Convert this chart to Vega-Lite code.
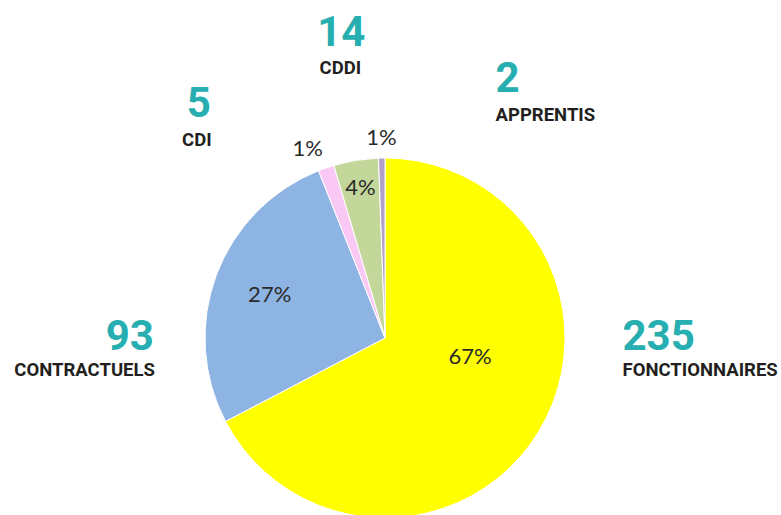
{
  "$schema": "https://vega.github.io/schema/vega-lite/v6.json",
  "width": 770,
  "height": 354,
  "autosize": {"type": "none"},
  "padding": {"left": 0, "top": 161, "right": 11, "bottom": 0},
  "background": "white",
  "config": {"view": {"stroke": null}},
  "data": {
    "values": [
      {"cat": "FONCTIONNAIRES", "rank": 1, "value": 235, "pct": "67%"},
      {"cat": "CONTRACTUELS", "rank": 2, "value": 93, "pct": "27%"},
      {"cat": "CDI", "rank": 3, "value": 5, "pct": "1%"},
      {"cat": "CDDI", "rank": 4, "value": 14, "pct": "4%"},
      {"cat": "APPRENTIS", "rank": 5, "value": 2, "pct": "1%"}
    ]
  },
  "encoding": {
    "theta": {"field": "value", "type": "quantitative", "stack": true},
    "order": {"field": "rank", "type": "quantitative"}
  },
  "layer": [
    {
      "mark": {"type": "arc", "outerRadius": 180, "stroke": "white", "strokeWidth": 1},
      "encoding": {
        "color": {
          "field": "cat",
          "type": "nominal",
          "scale": {
            "domain": ["FONCTIONNAIRES", "CONTRACTUELS", "CDI", "CDDI", "APPRENTIS"],
            "range": ["#FFFF00", "#8DB4E2", "#F9C8F5", "#C4D79B", "#B1A0C7"]
          },
          "legend": null
        }
      }
    },
    {
      "mark": {"type": "text", "radius": 90, "dx": 8, "dy": -28, "font": "Lato", "fontSize": 22, "color": "#2a2a2a", "align": "center", "baseline": "middle"},
      "encoding": {"text": {"condition": {"test": "datum.cat === 'FONCTIONNAIRES'", "field": "pct", "type": "nominal"}, "value": ""}}
    },
    {
      "mark": {"type": "text", "radius": 123, "font": "Lato", "fontSize": 22, "color": "#2a2a2a", "align": "center", "baseline": "middle"},
      "encoding": {"text": {"condition": {"test": "datum.cat === 'CONTRACTUELS'", "field": "pct", "type": "nominal"}, "value": ""}}
    },
    {
      "mark": {"type": "text", "radius": 152, "font": "Lato", "fontSize": 22, "color": "#2a2a2a", "align": "center", "baseline": "middle"},
      "encoding": {"text": {"condition": {"test": "datum.cat === 'CDDI'", "field": "pct", "type": "nominal"}, "value": ""}}
    },
    {
      "mark": {"type": "text", "radius": 200, "dx": -12, "font": "Lato", "fontSize": 22, "color": "#2a2a2a", "align": "center", "baseline": "middle"},
      "encoding": {"text": {"condition": {"test": "datum.cat === 'CDI'", "field": "pct", "type": "nominal"}, "value": ""}}
    },
    {
      "mark": {"type": "text", "radius": 200, "font": "Lato", "fontSize": 22, "color": "#2a2a2a", "align": "center", "baseline": "middle"},
      "encoding": {"text": {"condition": {"test": "datum.cat === 'APPRENTIS'", "field": "pct", "type": "nominal"}, "value": ""}}
    },
    {
      "mark": {"type": "text", "radius": 190, "dx": 75, "dy": -86, "font": "Roboto", "fontWeight": "bold", "fontSize": 42, "color": "#27AEB0", "align": "left", "baseline": "alphabetic"},
      "encoding": {"text": {"condition": {"test": "datum.cat === 'FONCTIONNAIRES'", "field": "value", "type": "quantitative"}, "value": ""}}
    },
    {
      "mark": {"type": "text", "radius": 190, "dx": 75, "dy": -60, "font": "Roboto", "fontWeight": "bold", "fontSize": 18.5, "color": "#231F20", "align": "left", "baseline": "alphabetic"},
      "encoding": {"text": {"condition": {"test": "datum.cat === 'FONCTIONNAIRES'", "field": "cat", "type": "nominal"}, "value": ""}}
    },
    {
      "mark": {"type": "text", "radius": 190, "dx": -53, "dy": 78, "font": "Roboto", "fontWeight": "bold", "fontSize": 42, "color": "#27AEB0", "align": "right", "baseline": "alphabetic"},
      "encoding": {"text": {"condition": {"test": "datum.cat === 'CONTRACTUELS'", "field": "value", "type": "quantitative"}, "value": ""}}
    },
    {
      "mark": {"type": "text", "radius": 190, "dx": -52, "dy": 104, "font": "Roboto", "fontWeight": "bold", "fontSize": 18.5, "color": "#231F20", "align": "right", "baseline": "alphabetic"},
      "encoding": {"text": {"condition": {"test": "datum.cat === 'CONTRACTUELS'", "field": "cat", "type": "nominal"}, "value": ""}}
    },
    {
      "mark": {"type": "text", "radius": 190, "dx": -124, "dy": -41, "font": "Roboto", "fontWeight": "bold", "fontSize": 42, "color": "#27AEB0", "align": "center", "baseline": "alphabetic"},
      "encoding": {"text": {"condition": {"test": "datum.cat === 'CDI'", "field": "value", "type": "quantitative"}, "value": ""}}
    },
    {
      "mark": {"type": "text", "radius": 190, "dx": -126, "dy": -12, "font": "Roboto", "fontWeight": "bold", "fontSize": 18.5, "color": "#231F20", "align": "center", "baseline": "alphabetic"},
      "encoding": {"text": {"condition": {"test": "datum.cat === 'CDI'", "field": "cat", "type": "nominal"}, "value": ""}}
    },
    {
      "mark": {"type": "text", "radius": 190, "dx": -13, "dy": -104, "font": "Roboto", "fontWeight": "bold", "fontSize": 42, "color": "#27AEB0", "align": "center", "baseline": "alphabetic"},
      "encoding": {"text": {"condition": {"test": "datum.cat === 'CDDI'", "field": "value", "type": "quantitative"}, "value": ""}}
    },
    {
      "mark": {"type": "text", "radius": 190, "dx": -14, "dy": -76, "font": "Roboto", "fontWeight": "bold", "fontSize": 18.5, "color": "#231F20", "align": "center", "baseline": "alphabetic"},
      "encoding": {"text": {"condition": {"test": "datum.cat === 'CDDI'", "field": "cat", "type": "nominal"}, "value": ""}}
    },
    {
      "mark": {"type": "text", "radius": 190, "dx": 114, "dy": -56, "font": "Roboto", "fontWeight": "bold", "fontSize": 42, "color": "#27AEB0", "align": "left", "baseline": "alphabetic"},
      "encoding": {"text": {"condition": {"test": "datum.cat === 'APPRENTIS'", "field": "value", "type": "quantitative"}, "value": ""}}
    },
    {
      "mark": {"type": "text", "radius": 190, "dx": 114, "dy": -27, "font": "Roboto", "fontWeight": "bold", "fontSize": 18.5, "color": "#231F20", "align": "left", "baseline": "alphabetic"},
      "encoding": {"text": {"condition": {"test": "datum.cat === 'APPRENTIS'", "field": "cat", "type": "nominal"}, "value": ""}}
    }
  ]
}
